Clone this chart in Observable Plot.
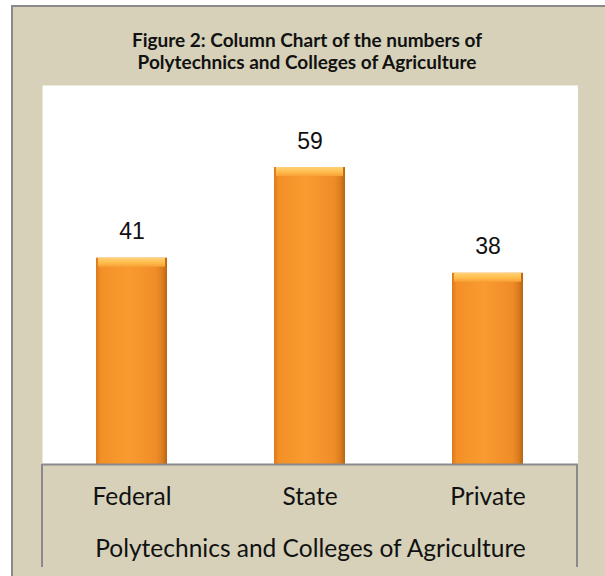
<!DOCTYPE html>
<html><head><meta charset="utf-8">
<script src="https://cdn.jsdelivr.net/npm/d3@7"></script>
<script src="https://cdn.jsdelivr.net/npm/@observablehq/plot@0.6"></script>
<style>
html,body{margin:0;padding:0;background:#fff;width:605px;height:576px;overflow:hidden}
#panel{position:absolute;left:11px;top:5px;width:640px;height:620px;background:#d7d1b9;border-left:2px solid #8a8a8a;border-top:2px solid #8a8a8a;box-sizing:border-box}
#title{position:absolute;left:11px;width:592px;top:29px;text-align:center;font:bold 19px Lato;line-height:22px;color:#111}
#chart{position:absolute;left:42px;top:85px}
#axisbox{position:absolute;left:41px;top:464px;width:537px;height:103px;border-left:2px solid #8a8a8a;border-right:2px solid #8a8a8a;box-sizing:border-box}
</style>
</head><body>
<div id="panel"></div>
<div id="title">Figure 2: Column Chart of the numbers of<br>Polytechnics and Colleges of Agriculture</div>
<div id="axisbox"></div>
<div id="chart"></div>
<script>
const categories = ["Federal", "State", "Private"];
const values = [41, 59, 38];
const xTitle = "Polytechnics and Colleges of Agriculture";

const data = categories.map((c, i) => ({category: c, value: values[i]}));

const plot = Plot.plot({
  width: 536, height: 482,
  marginTop: 0, marginBottom: 103, marginLeft: 0, marginRight: 0,
  style: {background: "transparent", fontFamily: "Lato", color: "#111"},
  x: {domain: categories, paddingInner: 0.6, paddingOuter: 0.3, label: null},
  y: {domain: [0, 75.3], axis: null},
  marks: [
    Plot.frame({fill: "white", stroke: null}),
    Plot.barY(data, {x: "category", y: "value", fill: "url(#barGrad)", style: "filter: drop-shadow(1px 1px 1.5px rgba(0,0,0,0.35))"}),
    Plot.barY(data, {x: "category", y1: d => d.value - 1.8, y2: "value", fill: "url(#bevelGrad)", insetLeft: 2, insetRight: 2}),
    Plot.ruleY([0], {stroke: "#8a8a8a", strokeWidth: 2}),
    Plot.text(data, {x: "category", y: "value", text: d => String(d.value), dy: -19, lineAnchor: "bottom", fontSize: 23, fontFamily: "Liberation Sans", fill: "#111"}),
    Plot.axisX({tickSize: 0, tickPadding: 23.5, fontSize: 24.5, label: xTitle, labelAnchor: "center", labelOffset: 92})
  ]
});

const svg = d3.select(plot);
const defs = svg.insert("defs", ":first-child");
const g = defs.append("linearGradient").attr("id", "barGrad").attr("x1", 0).attr("x2", 1).attr("y1", 0).attr("y2", 0);
[[0, "#dc7a1c"], [0.07, "#f39027"], [0.45, "#f99b30"], [0.85, "#f08c27"], [0.94, "#d97c1f"], [1, "#ba6410"]]
  .forEach(([o, c]) => g.append("stop").attr("offset", o).attr("stop-color", c));
const b = defs.append("linearGradient").attr("id", "bevelGrad").attr("x1", 0).attr("x2", 0).attr("y1", 0).attr("y2", 1);
[[0, "#ffd27a"], [0.5, "#ffbf4f"], [1, "#f9a036"]]
  .forEach(([o, c]) => b.append("stop").attr("offset", o).attr("stop-color", c));

document.getElementById("chart").appendChild(plot);
</script>
</body></html>
